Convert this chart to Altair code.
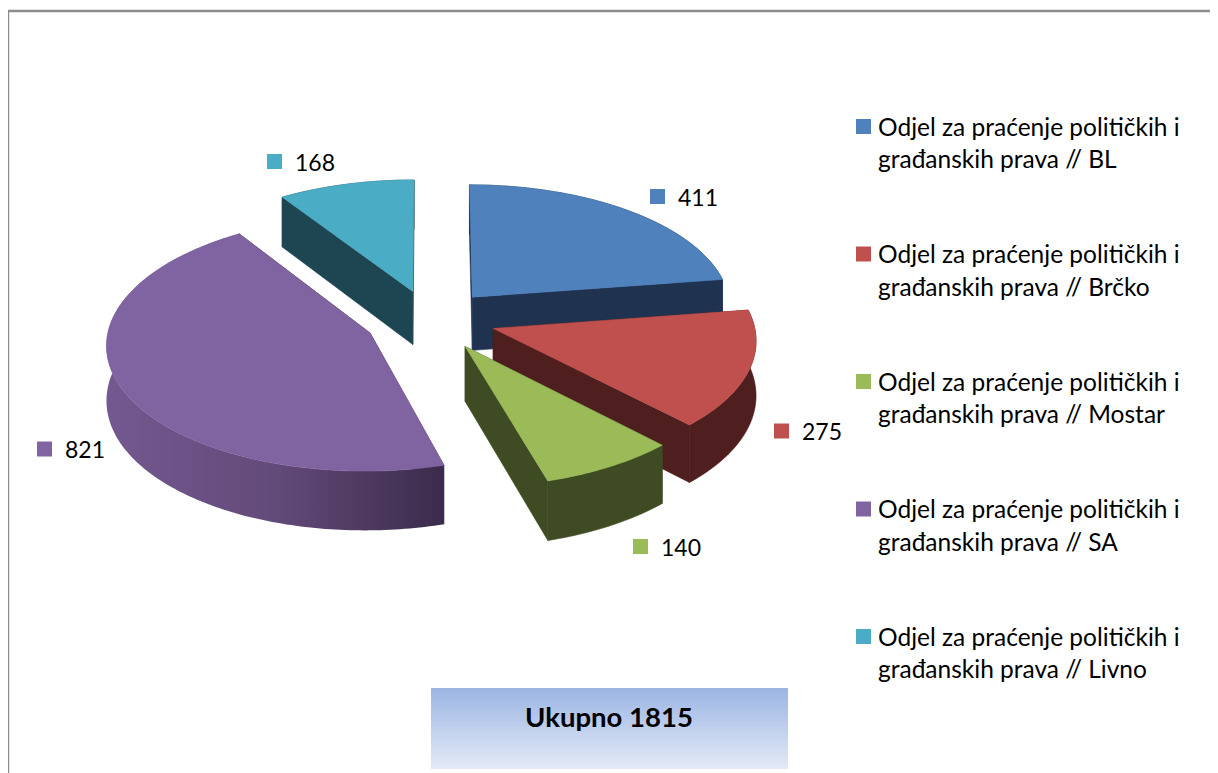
import math
import altair as alt
import pandas as pd

# --- chart values -----------------------------------------------------------
offices = ["BL", "Brčko", "Mostar", "SA", "Livno"]
values = [411, 275, 140, 821, 168]
legend_prefix = "Odjel za praćenje političkih i\ngrađanskih prava // "
total_label = "Ukupno  1815"

# --- styles -----------------------------------------------------------------
top_colors = ["#4f81bd", "#c0504d", "#9bbb59", "#8064a2", "#4bacc6"]
side_colors = ["#1f3350", "#4e1f1e", "#3f4b23", "#3b2a4a", "#1e4552"]
FONT = "Lato"

# pie geometry: a tilted disc seen in perspective, pixels of the picture
CX, CY, RX, RY, DEPTH, PERSP = 434.0, 319.0, 260.0, 124.6, 54.0, 0.08
explode = [0.235, 0.235, 0.25, 0.268, 0.235]
nudge_x = [-1, 1, -2, 0, -4]
draw_order = [4, 0, 1, 2, 3]

X_SCALE = alt.Scale(domain=[8, 1210], nice=False, zero=False)
Y_SCALE = alt.Scale(domain=[773, 8], nice=False, zero=False)


def xenc(f="x"):
    return alt.X(f"{f}:Q", scale=X_SCALE, axis=None)


def yenc(f="y"):
    return alt.Y(f"{f}:Q", scale=Y_SCALE, axis=None)


def project(px, py, drop=0.0, dx=0.0):
    f = 1.0 / (1.0 + PERSP * py)
    return CX + dx + px * RX * f, CY - py * RY * f + drop * DEPTH * f


def polygon(points, paint):
    rows = [{"x": a, "y": b, "i": n} for n, (a, b) in enumerate(points + points[:1])]
    return (
        alt.Chart(pd.DataFrame(rows))
        .mark_line(fill=paint, stroke=paint if isinstance(paint, str) else "#4d3a60",
                   strokeWidth=0.6 if isinstance(paint, str) else 0, interpolate="linear")
        .encode(x=xenc(), y=yenc(), order=alt.Order("i:Q"))
    )


total = sum(values)
starts = [sum(values[:k]) / total * 2 * math.pi for k in range(len(values))]
ends = [sum(values[: k + 1]) / total * 2 * math.pi for k in range(len(values))]

purple_wall = alt.Gradient(
    gradient="linear", x1=0, y1=0, x2=1, y2=0,
    stops=[
        alt.GradientStop(color="#745890", offset=0),
        alt.GradientStop(color="#624a79", offset=0.5),
        alt.GradientStop(color="#3c2b4b", offset=1),
    ],
)

layers = []

# frame of the picture
frame_color = "#8c8c8c"
layers.append(
    alt.Chart(pd.DataFrame({"x": [8.0], "x2": [1210], "y": [11.0]}))
    .mark_rule(color=frame_color, strokeWidth=2.4)
    .encode(x=xenc(), x2="x2:Q", y=yenc())
)
layers.append(
    alt.Chart(pd.DataFrame({"x": [8.0], "y": [10.0], "y2": [773]}))
    .mark_rule(color=frame_color, strokeWidth=2.4)
    .encode(x=xenc(), y=yenc(), y2="y2:Q")
)

# pie pieces, far to near
for k in draw_order:
    a0, a1 = starts[k], ends[k]
    mid = (a0 + a1) / 2
    ox, oy = explode[k] * math.sin(mid), explode[k] * math.cos(mid)
    steps = max(2, int(math.degrees(a1 - a0)))
    rim = [
        (ox + math.sin(a0 + (a1 - a0) * j / steps), oy + math.cos(a0 + (a1 - a0) * j / steps))
        for j in range(steps + 1)
    ]
    apex = (ox, oy)
    nx = nudge_x[k]
    for edge in (rim[0], rim[-1]):
        layers.append(
            polygon(
                [project(*apex, 0, nx), project(*edge, 0, nx), project(*edge, 1, nx), project(*apex, 1, nx)],
                side_colors[k],
            )
        )
    wall = [project(*p, 0, nx) for p in rim] + [project(*p, 1, nx) for p in reversed(rim)]
    layers.append(polygon(wall, purple_wall if k == 3 else side_colors[k]))
    layers.append(polygon([project(*apex, 0, nx)] + [project(*p, 0, nx) for p in rim], top_colors[k]))

# data labels with their colour keys
label_df = pd.DataFrame(
    {
        "x": [657.5, 781.5, 640.5, 44.5, 274.5],
        "y": [196.5, 431.0, 546.5, 449.0, 161.5],
        "tx": [678, 802, 661, 65, 295],
        "ty": [205.5, 440.0, 556.0, 458.0, 171.0],
        "label": [str(v) for v in values],
        "color": top_colors,
    }
)
layers.append(
    alt.Chart(label_df)
    .mark_square(size=225, opacity=1, filled=True)
    .encode(x=xenc(), y=yenc(), color=alt.Color("color:N", scale=None))
)
layers.append(
    alt.Chart(label_df)
    .mark_text(font=FONT, fontSize=23, align="left", baseline="alphabetic", color="#000000")
    .encode(x=xenc("tx"), y=yenc("ty"), text="label:N")
)

# legend
legend_df = pd.DataFrame(
    {
        "x": [863.5] * 5,
        "y": [126.5, 254.0, 381.5, 509.0, 636.5],
        "tx": [878] * 5,
        "ty": [135.5, 263.0, 390.5, 518.0, 645.5],
        "label": [legend_prefix + o for o in offices],
        "color": top_colors,
    }
)
layers.append(
    alt.Chart(legend_df)
    .mark_square(size=225, opacity=1, filled=True)
    .encode(x=xenc(), y=yenc(), color=alt.Color("color:N", scale=None))
)
layers.append(
    alt.Chart(legend_df)
    .mark_text(font=FONT, fontSize=24.5, align="left", baseline="alphabetic",
               lineBreak="\n", lineHeight=32.5, color="#000000")
    .encode(x=xenc("tx"), y=yenc("ty"), text="label:N")
)

# total box
box_gradient = alt.Gradient(
    gradient="linear", x1=0, y1=0, x2=0, y2=1,
    stops=[
        alt.GradientStop(color="#9cb5e3", offset=0),
        alt.GradientStop(color="#c3d2ee", offset=0.55),
        alt.GradientStop(color="#e4eaf6", offset=1),
    ],
)
layers.append(
    alt.Chart(pd.DataFrame({"x": [431], "x2": [788], "y": [688], "y2": [769]}))
    .mark_rect(fill=box_gradient)
    .encode(x=xenc(), x2="x2:Q", y=yenc(), y2="y2:Q")
)
layers.append(
    alt.Chart(pd.DataFrame({"x": [609], "y": [727], "label": [total_label]}))
    .mark_text(font=FONT, fontSize=27.5, fontWeight="bold", align="center",
               baseline="alphabetic", color="#000000")
    .encode(x=xenc(), y=yenc(), text="label:N")
)

chart = (
    alt.layer(*layers)
    .properties(width=1202, height=765, padding=0, autosize=alt.AutoSizeParams(type="none"),
                background="#ffffff")
    .configure_view(strokeWidth=0)
)
chart.save("out.html", embed_options={"renderer": "svg", "actions": False})
